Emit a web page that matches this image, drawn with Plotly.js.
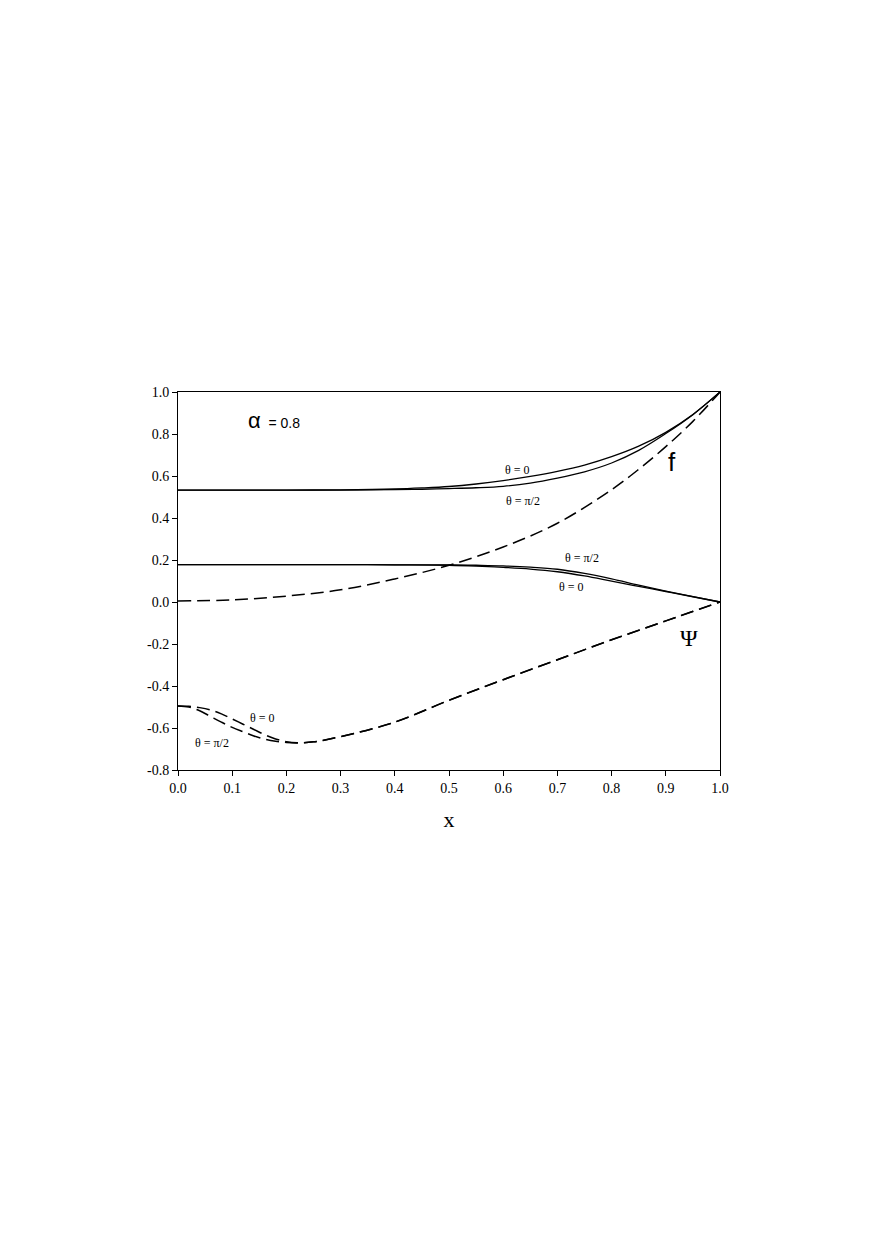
<!DOCTYPE html>
<html>
<head>
<meta charset="utf-8">
<script src="https://cdn.plot.ly/plotly-3.0.1.min.js"></script>
<style>html,body{margin:0;padding:0;background:#fff;}</style>
</head>
<body>
<div id="chart" style="width:872px;height:1243px;"></div>
<script>
// f curves (solid)
const xF = [0, 0.1, 0.2, 0.3, 0.4, 0.45, 0.5, 0.55, 0.6, 0.65, 0.7, 0.75, 0.8, 0.85, 0.9, 0.95, 1.0];
const fTheta0 = [0.533, 0.533, 0.533, 0.534, 0.538, 0.543, 0.550, 0.562, 0.578, 0.598, 0.622, 0.652, 0.692, 0.742, 0.808, 0.893, 1.0];
const fThetaPi2 = [0.533, 0.533, 0.533, 0.533, 0.535, 0.537, 0.540, 0.544, 0.551, 0.566, 0.590, 0.620, 0.662, 0.722, 0.802, 0.892, 1.0];
// f dashed
const xFd = [0, 0.1, 0.2, 0.3, 0.4, 0.5, 0.6, 0.7, 0.8, 0.85, 0.9, 0.95, 1.0];
const fDashed = [0.005, 0.01, 0.028, 0.058, 0.11, 0.175, 0.262, 0.375, 0.535, 0.632, 0.740, 0.860, 1.0];
// Psi curves (solid)
const xP = [0, 0.1, 0.2, 0.3, 0.4, 0.5, 0.55, 0.6, 0.65, 0.7, 0.75, 0.8, 0.85, 0.9, 0.95, 1.0];
const psiTheta0 = [0.178, 0.178, 0.178, 0.178, 0.177, 0.175, 0.171, 0.165, 0.157, 0.144, 0.124, 0.099, 0.074, 0.050, 0.025, 0.0];
const psiThetaPi2 = [0.178, 0.178, 0.178, 0.178, 0.177, 0.177, 0.175, 0.172, 0.166, 0.156, 0.136, 0.110, 0.080, 0.052, 0.026, 0.0];
// Psi dashed
const xPd = [0, 0.02, 0.04, 0.06, 0.08, 0.1, 0.12, 0.14, 0.16, 0.18, 0.2, 0.22, 0.25, 0.3, 0.4, 0.5, 0.6, 0.7, 0.8, 0.9, 1.0];
const psiDashedTheta0 = [-0.495, -0.497, -0.503, -0.514, -0.533, -0.557, -0.582, -0.607, -0.632, -0.652, -0.665, -0.670, -0.666, -0.641, -0.572, -0.468, -0.370, -0.275, -0.180, -0.090, 0.0];
const psiDashedThetaPi2 = [-0.495, -0.500, -0.518, -0.545, -0.572, -0.597, -0.618, -0.638, -0.653, -0.663, -0.669, -0.671, -0.666, -0.641, -0.572, -0.468, -0.370, -0.275, -0.180, -0.090, 0.0];

const yTickVals = [-0.8, -0.6, -0.4, -0.2, 0.0, 0.2, 0.4, 0.6, 0.8, 1.0];
const yTickText = ['-0.8', '-0.6', '-0.4', '-0.2', '0.0', '0.2', '0.4', '0.6', '0.8', '1.0'];
const xTickVals = [0, 0.1, 0.2, 0.3, 0.4, 0.5, 0.6, 0.7, 0.8, 0.9, 1.0];
const xTickText = ['0.0', '0.1', '0.2', '0.3', '0.4', '0.5', '0.6', '0.7', '0.8', '0.9', '1.0'];

const solid = {color: '#000', width: 1.3, shape: 'spline', smoothing: 1};
const dashed = {color: '#000', width: 1.5, dash: '13px,6px', shape: 'spline', smoothing: 1};

const traces = [
  {x: xF, y: fTheta0, mode: 'lines', line: solid},
  {x: xF, y: fThetaPi2, mode: 'lines', line: solid},
  {x: xFd, y: fDashed, mode: 'lines', line: dashed},
  {x: xP, y: psiTheta0, mode: 'lines', line: solid},
  {x: xP, y: psiThetaPi2, mode: 'lines', line: solid},
  {x: xPd, y: psiDashedTheta0, mode: 'lines', line: dashed},
  {x: xPd, y: psiDashedThetaPi2, mode: 'lines', line: dashed}
];

const serif = '"Liberation Serif", "Times New Roman", serif';
const sans = '"Liberation Sans", Arial, sans-serif';
function ann(x, y, text, size, fam) {
  return {x: x, y: y, xref: 'x', yref: 'y', text: text, showarrow: false,
    font: {family: fam || serif, size: size || 12, color: '#000'}, xanchor: 'center', yanchor: 'middle'};
}

const layout = {
  width: 872, height: 1243,
  margin: {l: 178, r: 152, t: 392, b: 473},
  paper_bgcolor: '#fff', plot_bgcolor: '#fff',
  showlegend: false,
  font: {family: serif, color: '#000'},
  xaxis: {
    range: [0, 1.0], tickvals: xTickVals, ticktext: xTickText,
    ticks: 'outside', ticklen: 5, tickwidth: 1, tickcolor: '#000',
    showline: true, linecolor: '#000', linewidth: 1, mirror: true,
    showgrid: false, zeroline: false,
    tickfont: {family: serif, size: 14, color: '#000'},
    title: {text: 'x', font: {family: serif, size: 22, color: '#000'}, standoff: 16}
  },
  yaxis: {
    range: [-0.8, 1.0], tickvals: yTickVals, ticktext: yTickText,
    ticks: 'outside', ticklen: 5, tickwidth: 1, tickcolor: '#000',
    showline: true, linecolor: '#000', linewidth: 1, mirror: true,
    showgrid: false, zeroline: false,
    tickfont: {family: serif, size: 14, color: '#000'}
  },
  annotations: [
    {x: 0.178, y: 0.862, xref: 'x', yref: 'y', showarrow: false, xanchor: 'center', yanchor: 'middle',
     text: '<span style="font-size:22px">α</span>  = 0.8', font: {family: sans, size: 14, color: '#000'}},
    ann(0.627, 0.628, 'θ = 0'),
    ann(0.637, 0.483, 'θ = π/2'),
    ann(0.912, 0.665, 'f', 26, sans),
    ann(0.745, 0.210, 'θ = π/2'),
    ann(0.726, 0.071, 'θ = 0'),
    ann(0.942, -0.17, 'Ψ', 24, serif),
    ann(0.155, -0.55, 'θ = 0'),
    ann(0.063, -0.672, 'θ = π/2')
  ]
};

Plotly.newPlot('chart', traces, layout, {displayModeBar: false, staticPlot: true});
</script>
</body>
</html>
